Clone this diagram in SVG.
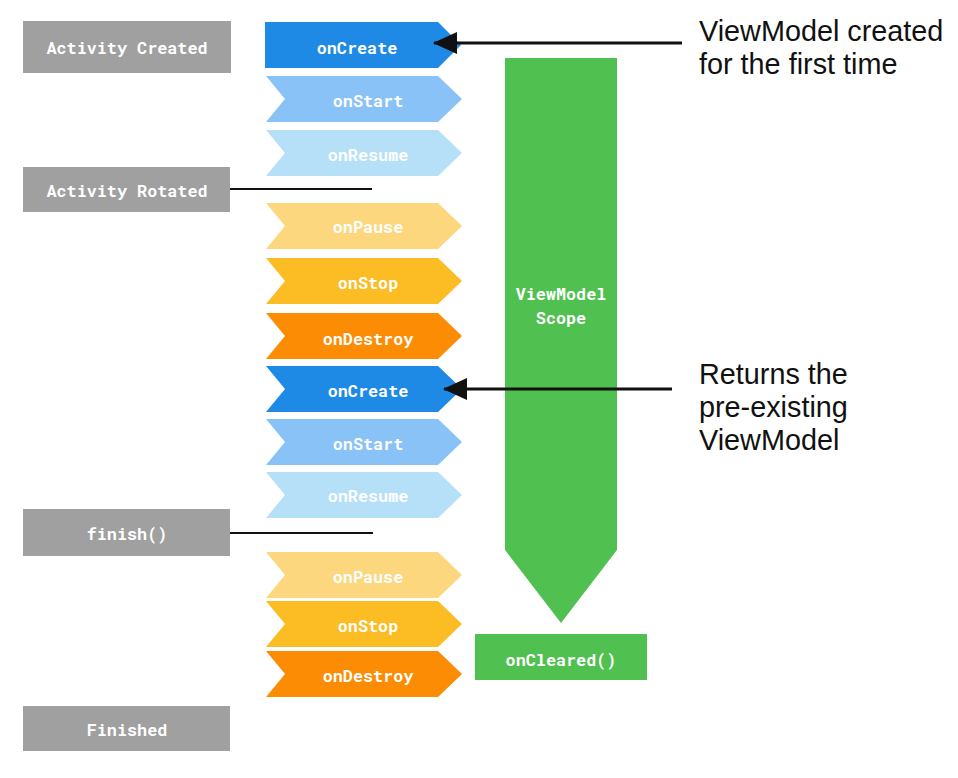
<svg xmlns="http://www.w3.org/2000/svg" width="958" height="778" viewBox="0 0 958 778">
<defs>
<style>
.box{fill:#a0a0a0}
.lbl{font-family:"Roboto Mono","DejaVu Sans Mono","Liberation Mono",monospace;font-weight:bold;font-size:16.8px;fill:#ffffff;text-anchor:middle;dominant-baseline:central}
.note{font-family:"Liberation Sans",Arial,sans-serif;font-size:28.8px;fill:#111111}
.conn{stroke:#111111;stroke-width:3;fill:none}
.thin{stroke:#111111;stroke-width:2;fill:none}
.green{fill:#50c150}
.c1{fill:#1e8ae6}.c2{fill:#88c2f7}.c3{fill:#b5e0f8}
.c4{fill:#fdd77e}.c5{fill:#fcbc24}.c6{fill:#fb8c04}
</style>
<polygon id="chev" points="0,0 172,0 196,23 172,46 0,46 19,23"/>
<marker id="ah" viewBox="0 0 24 22" refX="23" refY="11" markerWidth="24" markerHeight="22" markerUnits="userSpaceOnUse" orient="auto">
<path d="M24,11 L0,0 L0,22 Z" fill="#111111"/>
</marker>
</defs>

<g id="activity-created"><rect class="box" x="23" y="21" width="208" height="52"/><text class="lbl" x="127" y="47">Activity Created</text></g>
<g id="activity-rotated"><rect class="box" x="23" y="167" width="207" height="45"/><text class="lbl" x="127" y="190">Activity Rotated</text></g>
<g id="finish"><rect class="box" x="23" y="509" width="207" height="47"/><text class="lbl" x="127" y="533">finish()</text></g>
<g id="finished"><rect class="box" x="23" y="706" width="207" height="45"/><text class="lbl" x="127" y="729">Finished</text></g>

<g id="onCreate1"><polygon class="c1" points="265,22 438,22 461,45 438,68 265,68"/><text class="lbl" x="357" y="47">onCreate</text></g>
<g id="onStart1"><use href="#chev" class="c2" x="266" y="76"/><text class="lbl" x="368" y="100">onStart</text></g>
<g id="onResume1"><use href="#chev" class="c3" x="266" y="130"/><text class="lbl" x="368" y="154">onResume</text></g>
<g id="onPause1"><use href="#chev" class="c4" x="266" y="203"/><text class="lbl" x="368" y="226">onPause</text></g>
<g id="onStop1"><use href="#chev" class="c5" x="266" y="258"/><text class="lbl" x="368" y="282">onStop</text></g>
<g id="onDestroy1"><use href="#chev" class="c6" x="266" y="313"/><text class="lbl" x="368" y="338">onDestroy</text></g>
<g id="onCreate2"><use href="#chev" class="c1" x="266" y="366"/><text class="lbl" x="368" y="390">onCreate</text></g>
<g id="onStart2"><use href="#chev" class="c2" x="266" y="419"/><text class="lbl" x="368" y="443">onStart</text></g>
<g id="onResume2"><use href="#chev" class="c3" x="266" y="472"/><text class="lbl" x="368" y="495">onResume</text></g>
<g id="onPause2"><use href="#chev" class="c4" x="266" y="552"/><text class="lbl" x="368" y="576">onPause</text></g>
<g id="onStop2"><use href="#chev" class="c5" x="266" y="601"/><text class="lbl" x="368" y="625">onStop</text></g>
<g id="onDestroy2"><use href="#chev" class="c6" x="266" y="651"/><text class="lbl" x="368" y="675">onDestroy</text></g>

<g id="viewmodel-scope"><polygon class="green" points="505,58 617,58 617,550 561,623 505,550"/><text class="lbl" x="561" y="293">ViewModel</text><text class="lbl" x="561" y="317">Scope</text></g>
<g id="onCleared"><rect class="green" x="475" y="634" width="172" height="46"/><text class="lbl" x="561" y="659">onCleared()</text></g>

<g id="note1"><text class="note" x="699" y="41">ViewModel created</text><text class="note" x="699" y="74">for the first time</text></g>
<g id="note2"><text class="note" x="699" y="384">Returns the</text><text class="note" x="699" y="417">pre-existing</text><text class="note" x="699" y="450">ViewModel</text></g>

<g id="connectors">
<line class="thin" x1="230" y1="189" x2="372" y2="189"/>
<line class="thin" x1="230" y1="533" x2="373" y2="533"/>
<line class="conn" x1="682" y1="43" x2="434" y2="43" marker-end="url(#ah)"/>
<line class="conn" x1="672" y1="389" x2="444" y2="389" marker-end="url(#ah)"/>
</g>
</svg>
